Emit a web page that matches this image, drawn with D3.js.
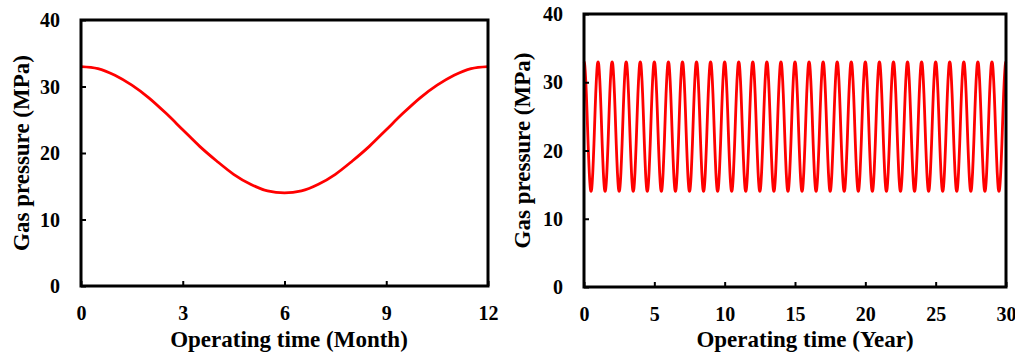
<!DOCTYPE html>
<html><head><meta charset="utf-8">
<script src="https://cdn.jsdelivr.net/npm/d3@7"></script>
<style>body{margin:0;background:#fff}svg{display:block}svg text{font-family:"Liberation Serif","Times New Roman",serif !important;font-weight:bold;fill:#000}</style>
</head><body>
<svg id="c" width="1015" height="353"></svg>
<script>
// Annual cycle (time in months, pressure in MPa)
const months = [0,0.5,1,1.5,2,2.5,3,3.5,4,4.5,5,5.5,6,6.5,7,7.5,8,8.5,9,9.5,10,10.5,11,11.5,12];
const pressure = [33.0,32.7,31.7,30.2,28.3,26.0,23.5,21.0,18.8,16.8,15.3,14.3,14.0,14.3,15.3,16.8,18.8,21.0,23.5,26.0,28.3,30.2,31.7,32.7,33.0];
const years = 30;
const leftXTicks = [0,3,6,9,12];
const rightXTicks = [0,5,10,15,20,25,30];
const yTicks = [0,10,20,30,40];

// Long-term series: the annual cycle repeated every year
const longSeries = [];
for (let y = 0; y < years; y++) {
  months.forEach((m, i) => {
    if (y > 0 && i === 0) return;
    longSeries.push([y + m / 12, pressure[i]]);
  });
}
const shortSeries = months.map((m, i) => [m, pressure[i]]);

const svg = d3.select("#c");

function panel(cfg) {
  const x = d3.scaleLinear().domain(cfg.xDomain).range([cfg.x0, cfg.x1]);
  const y = d3.scaleLinear().domain([0, 40]).range([cfg.y1, cfg.y0]);
  const g = svg.append("g");
  g.append("path").datum(cfg.data)
    .attr("fill", "none").attr("stroke", "#ff0000").attr("stroke-width", 2.8)
    .attr("stroke-linejoin", "round")
    .attr("d", d3.line().x(d => x(d[0])).y(d => y(d[1])).curve(d3.curveMonotoneX));
  g.append("rect").attr("x", cfg.x0).attr("y", cfg.y0)
    .attr("width", cfg.x1 - cfg.x0).attr("height", cfg.y1 - cfg.y0)
    .attr("fill", "none").attr("stroke", "#000").attr("stroke-width", 3);
  const xa = g.append("g").attr("transform", `translate(0,${cfg.y1})`)
    .call(d3.axisBottom(x).tickValues(cfg.xTicks).tickSize(-5).tickPadding(0).tickSizeOuter(0));
  xa.attr("font-family", null).attr("font-size", null);
  xa.select(".domain").remove();
  xa.selectAll(".tick line").attr("stroke", "#000").attr("stroke-width", 2);
  xa.selectAll(".tick text").attr("y", 34).attr("dy", 0).style("font-size", "20px");
  const ya = g.append("g").attr("transform", `translate(${cfg.x0},0)`)
    .call(d3.axisLeft(y).tickValues(yTicks).tickSize(-5).tickPadding(0).tickSizeOuter(0));
  ya.attr("font-family", null).attr("font-size", null);
  ya.select(".domain").remove();
  ya.selectAll(".tick line").attr("stroke", "#000").attr("stroke-width", 2);
  ya.selectAll(".tick text").attr("x", -21).attr("dy", "0.33em").style("font-size", "20px");
  g.append("text").attr("x", cfg.xlabX).attr("y", 347).attr("text-anchor", "middle")
    .style("font-size", "23px").text(cfg.xlabel);
  g.append("text").attr("transform", `translate(${cfg.ylabX},${(cfg.y0 + cfg.y1) / 2}) rotate(-90)`)
    .attr("text-anchor", "middle").style("font-size", "23px").text("Gas pressure (MPa)");
}

panel({x0: 81, x1: 488, y0: 20, y1: 286, xDomain: [0, 12], xTicks: leftXTicks,
  data: shortSeries, xlabel: "Operating time (Month)", xlabX: 289, ylabX: 29});
panel({x0: 584, x1: 1006, y0: 14, y1: 287, xDomain: [0, 30], xTicks: rightXTicks,
  data: longSeries, xlabel: "Operating time (Year)", xlabX: 805, ylabX: 530});
</script>
</body></html>
